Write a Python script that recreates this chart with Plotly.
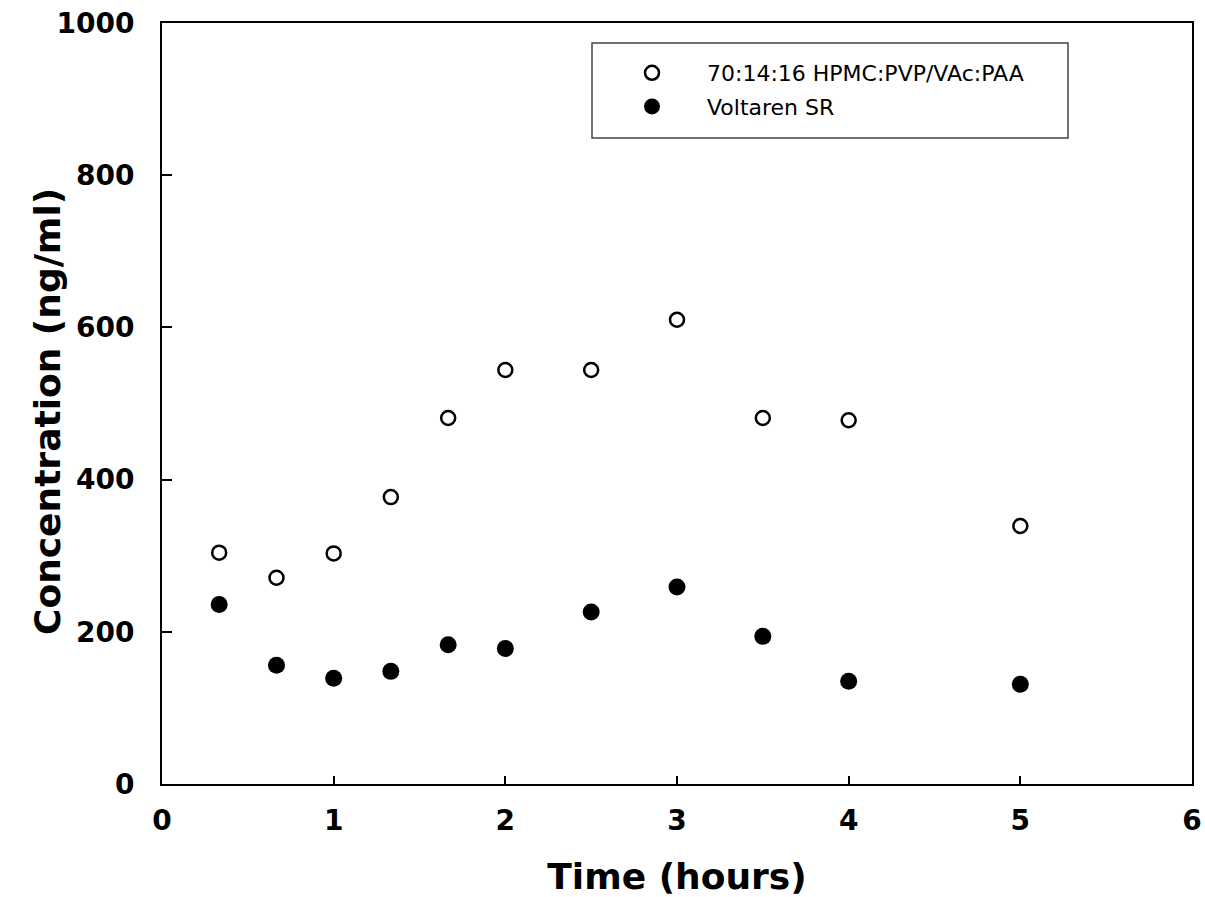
import plotly.graph_objects as go

# Sampling times (hours)
time_h = [0.333, 0.667, 1.0, 1.333, 1.667, 2.0, 2.5, 3.0, 3.5, 4.0, 5.0]

# Plasma concentration (ng/ml)
conc_hpmc_blend = [304, 271, 303, 377, 481, 544, 544, 610, 481, 478, 339]
conc_voltaren = [236, 156, 139, 148, 183, 178, 226, 259, 194, 135, 131]

series_names = ["70:14:16 HPMC:PVP/VAc:PAA", "Voltaren SR"]

x_ticks = [0, 1, 2, 3, 4, 5, 6]
y_ticks = [0, 200, 400, 600, 800, 1000]

W, H = 1205, 897
L, R, T, B = 162, 13, 23, 113
pw, ph = W - L - R, H - T - B


def px_to_paper_x(px):
    return (px - L) / pw


def px_to_paper_y(py):
    return (H - B - py) / ph


fig = go.Figure()
fig.add_trace(go.Scatter(
    x=time_h, y=conc_hpmc_blend, mode="markers", name=series_names[0],
    legendgroup="a",
    marker=dict(symbol="circle-open", size=14, color="black",
                line=dict(color="black", width=2.5)),
))
fig.add_trace(go.Scatter(
    x=time_h, y=conc_voltaren, mode="markers", name=series_names[1],
    legendgroup="b",
    marker=dict(symbol="circle", size=17, color="black",
                line=dict(width=0)),
))

axis_font = dict(family="DejaVu Sans", size=28, color="black", weight="bold")
title_font = dict(family="DejaVu Sans", size=36, color="black", weight="bold")

fig.update_xaxes(
    range=[0, 6], tickvals=x_ticks, ticktext=[str(v) for v in x_ticks],
    ticks="inside", ticklen=8, tickwidth=2, tickcolor="black",
    showline=True, linewidth=2, linecolor="black", mirror=True,
    showgrid=False, zeroline=False, tickfont=axis_font,
    ticklabelstandoff=10, automargin=False,
    title=dict(text="Time (hours)", font=title_font, standoff=28),
)
fig.update_yaxes(
    range=[0, 1000], tickvals=y_ticks, ticktext=[str(v) for v in y_ticks],
    ticks="inside", ticklen=10, tickwidth=2, tickcolor="black",
    showline=True, linewidth=2, linecolor="black", mirror=True,
    showgrid=False, zeroline=False, tickfont=axis_font,
    ticklabelstandoff=20, automargin=False,
)

# Vertical axis title
fig.add_annotation(
    text="Concentration (ng/ml)", textangle=-90,
    xref="paper", yref="paper",
    x=px_to_paper_x(48), y=px_to_paper_y(412),
    xanchor="center", yanchor="middle", showarrow=False,
    font=title_font,
)

# Legend frame
fig.add_shape(
    type="rect", xref="paper", yref="paper",
    x0=px_to_paper_x(592), x1=px_to_paper_x(1068),
    y0=px_to_paper_y(138), y1=px_to_paper_y(43),
    line=dict(color="#444444", width=1.5), fillcolor="rgba(0,0,0,0)",
)

fig.update_layout(
    width=W, height=H,
    margin=dict(l=L, r=R, t=T, b=B, autoexpand=False),
    paper_bgcolor="white", plot_bgcolor="white",
    showlegend=True,
    legend=dict(
        x=px_to_paper_x(597), y=px_to_paper_y(52),
        xanchor="left", yanchor="top",
        bgcolor="rgba(0,0,0,0)", borderwidth=0,
        font=dict(family="DejaVu Sans", size=22, color="black"),
        itemwidth=100, tracegroupgap=2,
    ),
)

fig.write_html("out.html")
